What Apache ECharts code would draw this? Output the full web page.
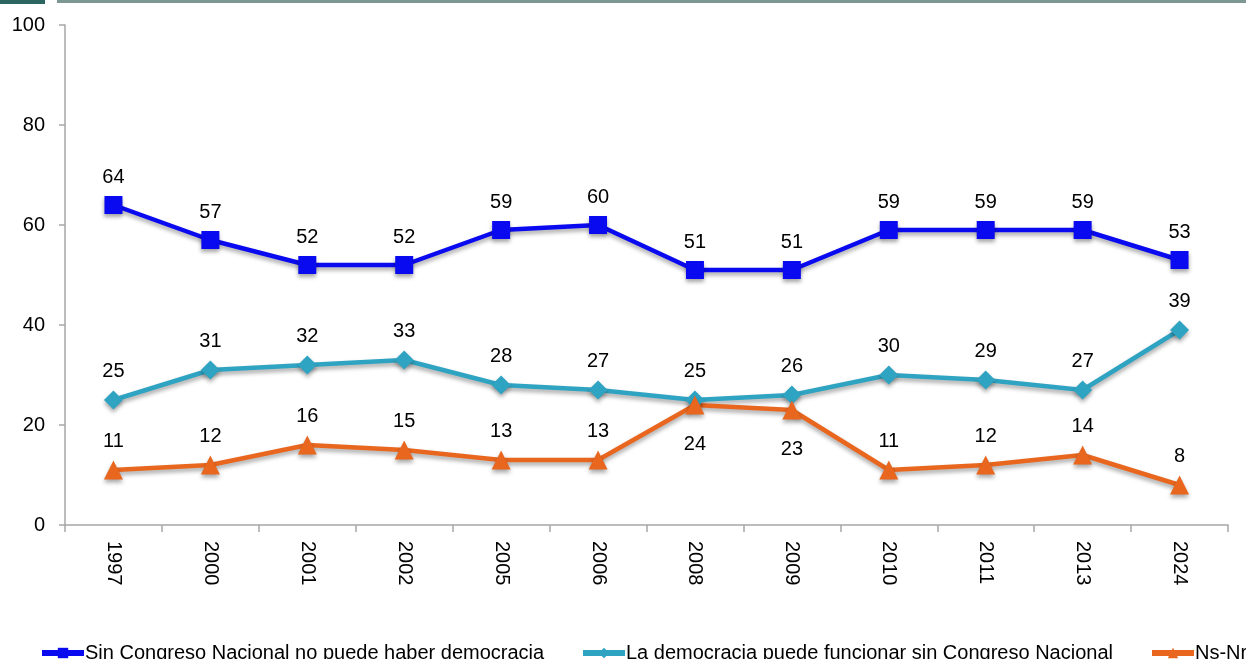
<!DOCTYPE html>
<html>
<head>
<meta charset="utf-8">
<script src="https://cdn.jsdelivr.net/npm/echarts@6/dist/echarts.min.js"></script>
<style>
  html, body { margin: 0; padding: 0; background: #fff; }
  #chart { width: 1246px; height: 659px; }
</style>
</head>
<body>
<div id="chart"></div>
<script>
const years = ['1997', '2000', '2001', '2002', '2005', '2006', '2008', '2009', '2010', '2011', '2013', '2024']
const sinCongreso = [64, 57, 52, 52, 59, 60, 51, 51, 59, 59, 59, 53]
const funcionaSin = [25, 31, 32, 33, 28, 27, 25, 26, 30, 29, 27, 39]
const nsNr = [11, 12, 16, 15, 13, 13, 24, 23, 11, 12, 14, 8]
const nsNrBelow = ['2008', '2009']

const names = [
  'Sin Congreso Nacional no puede haber democracia',
  'La democracia puede funcionar sin Congreso Nacional',
  'Ns-Nr'
]

const chart = echarts.init(document.getElementById('chart'))

const font = 'Liberation Sans, Arial, sans-serif'
const labelStyle = {
  show: true,
  position: 'top',
  distance: 9,
  color: '#000',
  fontSize: 20,
  fontFamily: font
}
const shadow = {
  shadowColor: 'rgba(0,0,0,0.35)',
  shadowBlur: 4,
  shadowOffsetY: 3
}

const makeSeries = (name, data, color, symbol, size) => ({
  name,
  type: 'line',
  data,
  symbol,
  symbolSize: size,
  itemStyle: { color, ...shadow },
  lineStyle: { color, width: 4.5, ...shadow },
  label: labelStyle,
  z: 3
})

const orangeData = nsNr.map((v, i) => nsNrBelow.includes(years[i])
  ? { value: v, label: { position: 'bottom', distance: 20 } }
  : v)

const legendBase = {
  bottom: -4,
  padding: 0,
  itemWidth: 42,
  itemHeight: 13,
  lineStyle: { width: 6, shadowBlur: 0, shadowOffsetY: 0 },
  itemStyle: { shadowBlur: 0, shadowOffsetY: 0 },
  textStyle: { color: '#000', fontSize: 20, fontFamily: font, padding: [0, 0, 0, -4] },
  itemGap: 2
}

const option = {
  animation: false,
  backgroundColor: '#fff',
  graphic: [
    { type: 'rect', left: 0, top: 0, shape: { width: 45, height: 4 }, style: { fill: '#2d6660' } },
    { type: 'rect', left: 57, top: 0, shape: { width: 1189, height: 3 }, style: { fill: '#7d9893' } }
  ],
  grid: { left: 65, right: 18, top: 25, bottom: 134 },
  legend: [
    { ...legendBase, left: 39, data: [names[0]] },
    { ...legendBase, left: 580, data: [names[1]] },
    { ...legendBase, left: 1149, data: [names[2]] }
  ],
  xAxis: {
    type: 'category',
    data: years,
    axisLine: { lineStyle: { color: '#a6a6a6', width: 1.5 } },
    axisTick: { show: true, length: 7, lineStyle: { color: '#a6a6a6', width: 1.5 } },
    axisLabel: {
      rotate: -90,
      margin: 16,
      color: '#000',
      fontSize: 20,
      fontFamily: font
    }
  },
  yAxis: {
    type: 'value',
    min: 0,
    max: 100,
    interval: 20,
    axisLine: { show: true, lineStyle: { color: '#a6a6a6', width: 1.5 } },
    axisTick: { show: true, length: 6, lineStyle: { color: '#a6a6a6', width: 1.5 } },
    splitLine: { show: false },
    axisLabel: {
      margin: 20,
      color: '#000',
      fontSize: 20,
      fontFamily: font
    }
  },
  series: [
    makeSeries(names[0], sinCongreso, '#0a0af0', 'rect', 18),
    makeSeries(names[1], funcionaSin, '#2fa3c2', 'diamond', 19),
    makeSeries(names[2], orangeData, '#e8661e', 'triangle', 19)
  ]
}

chart.setOption(option)
</script>
</body>
</html>
